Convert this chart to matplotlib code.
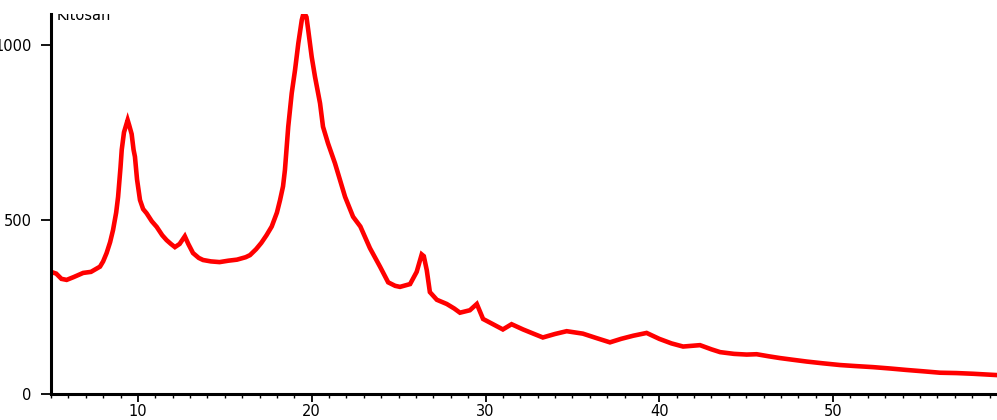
import matplotlib
matplotlib.use("Agg")
import matplotlib.pyplot as plt
from matplotlib.ticker import MultipleLocator

two_theta = [5.0, 5.3, 5.6, 5.9, 6.3, 6.85, 7.3, 7.82, 8.0, 8.2, 8.4, 8.57, 8.75, 8.86,
             9.0, 9.07, 9.2, 9.41, 9.5, 9.64, 9.75, 9.83, 9.95, 10.12, 10.3, 10.5, 10.8,
             11.08, 11.4, 11.65, 11.9, 12.13, 12.4, 12.7, 12.9, 13.17, 13.5, 13.75, 14.2,
             14.7, 15.2, 15.7, 16.2, 16.45, 16.8, 17.1, 17.4, 17.7, 18.0, 18.18, 18.35,
             18.46, 18.65, 18.85, 19.04, 19.23, 19.43, 19.55, 19.7, 19.8, 20.0, 20.19,
             20.48, 20.65, 20.94, 21.34, 21.63, 21.92, 22.38, 22.8, 23.35, 23.93, 24.4,
             24.8, 25.08, 25.66, 26.04, 26.33, 26.45, 26.62, 26.8, 27.2, 27.77, 28.2,
             28.53, 29.1, 29.5, 29.86, 30.43, 31.0, 31.5, 32.16, 32.8, 33.3, 34.0, 34.67,
             35.6, 36.4, 37.16, 37.8, 38.5, 39.27, 40.0, 40.7, 41.37, 42.34, 43.0, 43.5,
             44.3, 45.03, 45.6, 46.3, 46.94, 47.7, 48.48, 49.4, 50.4, 51.3, 52.3, 53.3,
             54.2, 55.2, 56.15, 57.1, 58.05, 59.5]
intensity = [350, 345, 330, 327, 335, 347, 350, 365, 380, 404, 435, 470, 520, 565,
             650, 700, 750, 785, 770, 745, 700, 680, 615, 556, 530, 518, 495,
             479, 455, 441, 430, 421, 430, 452, 430, 404, 390, 384, 380,
             378, 382, 385, 392, 398, 415, 433, 455, 480, 520, 556, 595,
             642, 766, 862, 928, 1005, 1072, 1095, 1080, 1043, 966, 909,
             833, 766, 718, 661, 613, 565, 508, 480, 418, 365, 320,
             310, 307, 315, 350, 400, 395, 355, 292, 270, 258, 245,
             233, 240, 258, 215, 200, 185, 200, 185, 172, 162, 172, 180,
             173, 160, 148, 158, 167, 175, 158, 145, 136, 140, 128, 120,
             115, 113, 114, 108, 103, 98, 93, 88, 83, 80, 77, 73,
             69, 65, 61, 60, 58, 54]
label = "Kitosan"
x_major = [10, 20, 30, 40, 50]
y_major = [0, 500, 1000]

plt.rcParams['font.family'] = ['DejaVu Sans']
fig = plt.figure(figsize=(9.97, 4.2), dpi=100)
ax = fig.add_axes([51/997, 26/420, 946/997, 380/420])

ax.plot(two_theta, intensity, color='#ff0000', lw=3.3, solid_joinstyle='miter')

ax.set_xlim(5, 59.43)
ax.set_ylim(0, 1089)
ax.set_xticks(x_major)
ax.set_yticks(y_major)
ax.xaxis.set_minor_locator(MultipleLocator(1))

for s in ['top', 'right']:
    ax.spines[s].set_visible(False)
for s in ['left', 'bottom']:
    ax.spines[s].set_linewidth(2.2)

ax.tick_params(axis='x', which='major', direction='out', length=6, width=1.3,
               labelsize=10.5, pad=1.5)
ax.tick_params(axis='x', which='minor', direction='out', length=3, width=1.0)
ax.tick_params(axis='y', which='major', direction='out', length=7, width=1.3,
               labelsize=10.5, pad=7)

t = ax.text(6 / 946, (394 - 20) / 380, label, transform=ax.transAxes,
            fontsize=10.5, va='baseline', ha='left', clip_on=True)

fig.savefig("out.png", dpi=100)
